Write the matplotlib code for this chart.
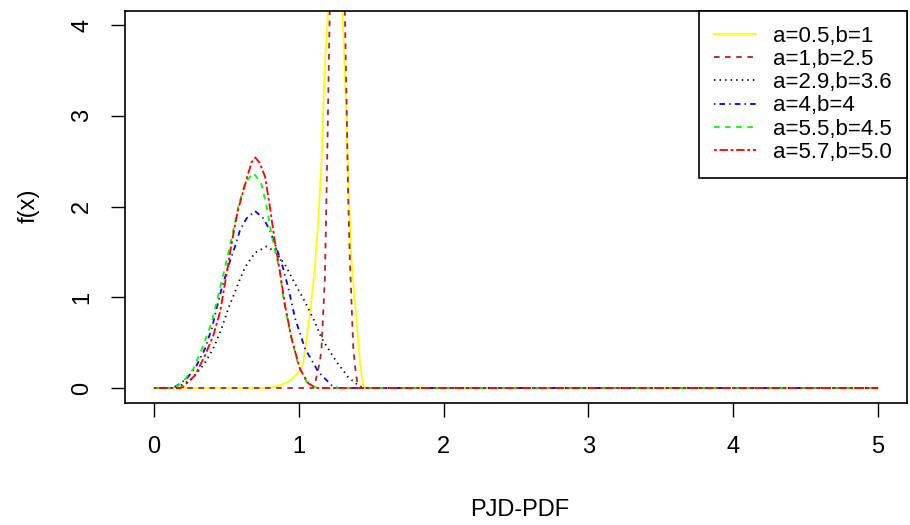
import matplotlib
matplotlib.use('Agg')
import matplotlib.pyplot as plt

plt.rcParams['font.family'] = ['Liberation Sans', 'DejaVu Sans']
plt.rcParams['lines.scale_dashes'] = False

# values
labels = ['a=0.5,b=1', 'a=1,b=2.5', 'a=2.9,b=3.6', 'a=4,b=4', 'a=5.5,b=4.5', 'a=5.7,b=5.0']

x_y1 = [0, 0.75, 0.84, 0.93, 1.00, 1.03, 1.055, 1.08, 1.11, 1.134, 1.157, 1.18, 1.203, 1.25,
        1.302, 1.318, 1.33, 1.341, 1.353, 1.364, 1.38, 1.40, 1.422, 1.445, 1.46, 5]
y_y1 = [0, 0, 0.01, 0.07, 0.17, 0.27, 0.55, 0.85, 1.30, 1.82, 2.50, 3.55, 4.16, 5.2,
        4.16, 3.48, 2.92, 2.35, 1.84, 1.40, 1.10, 0.73, 0.29, 0.03, 0, 0]

x_y2 = [0, 1.10, 1.11, 1.134, 1.146, 1.157, 1.18, 1.19, 1.198, 1.203, 1.214, 1.265,
        1.318, 1.33, 1.341, 1.353, 1.364, 1.376, 1.39, 1.405, 1.42, 5]
y_y2 = [0, 0, 0.03, 0.21, 0.29, 0.44, 1.20, 2.00, 2.70, 3.16, 4.16, 8.0,
        4.16, 3.16, 2.10, 1.40, 0.95, 0.45, 0.22, 0.05, 0, 0]

x_y3 = [0, 0.134, 0.17, 0.26, 0.341, 0.41, 0.468, 0.514, 0.56, 0.594, 0.629, 0.698, 0.778,
        0.836, 0.905, 0.974, 1.043, 1.11, 1.157, 1.26, 1.341, 1.41, 1.45, 5]
y_y3 = [0, 0, 0.01, 0.10, 0.25, 0.435, 0.66, 0.88, 1.06, 1.20, 1.33, 1.49, 1.56,
        1.50, 1.36, 1.15, 0.95, 0.73, 0.55, 0.29, 0.12, 0.03, 0, 0]

x_y4 = [0, 0.134, 0.226, 0.295, 0.353, 0.40, 0.433, 0.468, 0.525, 0.56, 0.594, 0.64, 0.698,
        0.755, 0.80, 0.88, 0.928, 0.974, 1.043, 1.134, 1.226, 1.27, 5]
y_y4 = [0, 0, 0.10, 0.25, 0.435, 0.66, 0.88, 1.10, 1.40, 1.56, 1.74, 1.87, 1.95,
        1.87, 1.74, 1.39, 1.10, 0.77, 0.435, 0.18, 0.03, 0, 0]

x_y5 = [0, 0.134, 0.19, 0.272, 0.341, 0.40, 0.445, 0.479, 0.514, 0.548, 0.583, 0.629, 0.686,
        0.74, 0.778, 0.812, 0.87, 0.893, 0.94, 0.997, 1.054, 1.11, 1.13, 5]
y_y5 = [0, 0, 0.05, 0.21, 0.47, 0.73, 1.03, 1.25, 1.49, 1.74, 2.0, 2.26, 2.37,
        2.26, 2.0, 1.69, 1.28, 0.99, 0.62, 0.25, 0.066, 0.01, 0, 0]

x_y6 = [0, 0.16, 0.20, 0.284, 0.353, 0.41, 0.457, 0.502, 0.537, 0.576, 0.606, 0.652, 0.675, 0.70,
        0.73, 0.767, 0.80, 0.836, 0.87, 0.905, 0.95, 1.008, 1.066, 1.11, 1.13, 5]
y_y6 = [0, 0, 0.01, 0.14, 0.36, 0.58, 0.84, 1.26, 1.60, 1.93, 2.11, 2.37, 2.49, 2.54,
        2.48, 2.33, 2.0, 1.60, 1.28, 0.91, 0.545, 0.21, 0.05, 0.01, 0, 0]

xs = [x_y1, x_y2, x_y3, x_y4, x_y5, x_y6]
ys = [y_y1, y_y2, y_y3, y_y4, y_y5, y_y6]
colors = ['#FFFF00', '#A52A2A', 'black', '#0000FF', '#00FF00', '#FF0000']
u = 1.0
dashes = [None, (0, (4*u, 4*u)), (0, (1*u, 3*u)), (0, (1*u, 3*u, 4*u, 3*u)),
          (0, (4*u, 4*u)), (0, (2*u, 2*u, 6*u, 2*u))]

fig = plt.figure(figsize=(9.1, 5.25), dpi=100)
ax = fig.add_axes([125/910, (525-402.5)/525, (907-125)/910, (402.5-10.5)/525])

for x, y, c, d, lab in zip(xs, ys, colors, dashes, labels):
    ls = '-' if d is None else d
    ax.plot(x, y, color=c, lw=1.3, linestyle=ls, label=lab)

ax.set_xlim(-0.2, 5.2)
ax.set_ylim(-0.16, 4.16)
ax.set_xticks([0, 1, 2, 3, 4, 5])
ax.set_yticks([0, 1, 2, 3, 4])
ax.tick_params(axis='both', labelsize=17, length=10, width=1, colors='black')
ax.tick_params(axis='x', pad=14)
ax.tick_params(axis='y', pad=13)
for t in ax.get_yticklabels():
    t.set_rotation(90)
    t.set_va('center')
for s in ax.spines.values():
    s.set_linewidth(1.2)

fig.text(520/910, 1 - 510/525, 'PJD-PDF', ha='center', va='center', fontsize=17)
fig.text(29/910, 1 - 206/525, 'f(x)', ha='center', va='center', fontsize=17, rotation=90)

leg = ax.legend(loc='upper right', fontsize=16, frameon=True, fancybox=False,
                framealpha=1, edgecolor='black', borderaxespad=0, handlelength=1.9,
                labelspacing=0.1, borderpad=0.68, handletextpad=0.75)
leg.get_frame().set_linewidth(1.2)

fig.savefig('out.png', dpi=100)
